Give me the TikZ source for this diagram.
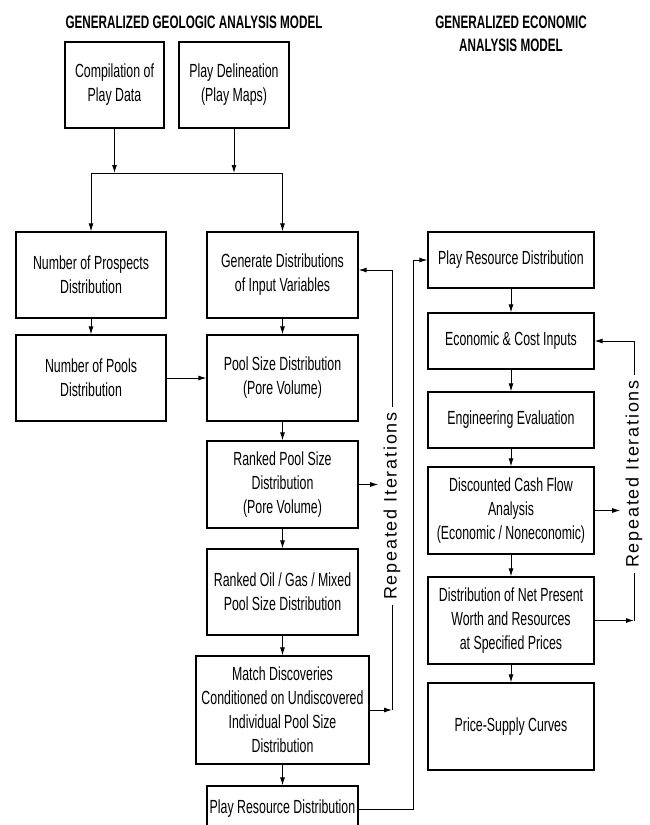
\documentclass[tikz,border=0pt]{standalone}
\usepackage{fontspec}
\setmainfont{Liberation Sans}[FakeStretch=0.65]
\newfontfamily\repfont{Liberation Sans}[LetterSpace=10]
\usetikzlibrary{arrows.meta}

\tikzset{
  box/.style={draw, line width=1.3pt, align=center, inner sep=0pt,
    font=\fontsize{19}{24}\selectfont},
  title/.style={align=center, font=\fontsize{18}{23}\selectfont\bfseries},
  arr/.style={-{Latex[length=8pt,width=5pt]}},
  rep/.style={rotate=90, inner sep=5pt, font=\repfont\fontsize{18}{20}\selectfont}
}

\begin{document}
\begin{tikzpicture}[x=1pt, y=-1pt, line width=0.9pt]
		\useasboundingbox (0,0) rectangle (649,825);
		% titles
		\node[title] (tgeo) at (194,22) {GENERALIZED GEOLOGIC ANALYSIS MODEL};
		\node[title] (teco) at (511,34) {GENERALIZED ECONOMIC\\ANALYSIS MODEL};

		% geologic model
		\node[box, minimum width=99, minimum height=86] (comp) at (114.5,85)
		{Compilation of\\Play Data};
		\node[box, minimum width=110, minimum height=86] (delin) at (234,85)
		{Play Delineation\\(Play Maps)};
		\node[box, minimum width=150, minimum height=86] (prosp) at (91,275)
		{Number of Prospects\\Distribution};
		\node[box, minimum width=150, minimum height=86] (pools) at (91,378)
		{Number of Pools\\Distribution};
		\node[box, minimum width=151, minimum height=86] (gen) at (282.5,275)
		{Generate Distributions\\of Input Variables};
		\node[box, minimum width=151, minimum height=86] (psize) at (282.5,378)
		{Pool Size Distribution\\(Pore Volume)};
		\node[box, minimum width=151, minimum height=87] (ranked) at (282.5,484.5)
		{Ranked Pool Size\\Distribution\\(Pore Volume)};
		\node[box, minimum width=151, minimum height=86] (rog) at (282.5,592)
		{Ranked Oil / Gas / Mixed\\Pool Size Distribution};
		\node[box, minimum width=173, minimum height=108] (match) at (282.5,710)
		{Match Discoveries\\Conditioned on Undiscovered\\Individual Pool Size\\Distribution};
		\node[box, minimum width=151, minimum height=46] (pres1) at (282.5,809)
		{Play Resource Distribution};

		% economic model
		\node[box, minimum width=166, minimum height=56] (pres2) at (511,260)
		{Play Resource Distribution};
		\node[box, minimum width=166, minimum height=56] (econ) at (511,341)
		{Economic \& Cost Inputs};
		\node[box, minimum width=166, minimum height=56] (eng) at (511,420)
		{Engineering Evaluation};
		\node[box, minimum width=166, minimum height=87] (dcf) at (511,510.5)
		{Discounted Cash Flow\\Analysis\\(Economic / Noneconomic)};
		\node[box, minimum width=166, minimum height=87] (npw) at (511,620.5)
		{Distribution of Net Present\\Worth and Resources\\at Specified Prices};
		\node[box, minimum width=166, minimum height=87] (psc) at (511,726.5)
		{Price-Supply Curves};

		% iteration labels
		\node[rep] (repl) at (392,506) {Repeated Iterations};
		\node[rep] (repr) at (634,474) {Repeated Iterations};

		% junction below the first two boxes
		\coordinate (jn) at (182,173);
		\draw[arr] (comp.south) -- (comp.south |- jn);
		\draw[arr] (delin.south) -- (delin.south |- jn);
		\draw (prosp.north |- jn) -- (gen.north |- jn);
		\draw[arr] (prosp.north |- jn) -- (prosp.north);
		\draw[arr] (gen.north |- jn) -- (gen.north);

		% geologic flow
		\draw[arr] (prosp) -- (pools);
		\draw[arr] (pools) -- (psize);
		\draw[arr] (gen) -- (psize);
		\draw[arr] (psize) -- (ranked);
		\draw[arr] (ranked) -- (rog);
		\draw[arr] (rog) -- (match);
		\draw[arr] (match) -- (pres1);

		% left iteration loop
		\coordinate (genin) at ([yshift=5pt]gen.east);
		\draw[arr] (repl.east) -- (repl.east |- genin) -- (genin);
		\draw (repl.west) -- (repl.west |- match.east);
		\draw[arr] (match.east) -- (match.east -| repl.west);
		\draw[arr] (ranked.east) -- (ranked.east -| repl.north);

		% to economic model
		\draw[arr] (pres1.east) -- ++(55,0) |- (pres2.west);

		% economic flow
		\draw[arr] (pres2) -- (econ);
		\draw[arr] (econ) -- (eng);
		\draw[arr] (eng) -- (dcf);
		\draw[arr] (dcf) -- (npw);
		\draw[arr] (npw) -- (psc);

		% right iteration loop
		\draw[arr] (repr.east) -- (repr.east |- econ.east) -- (econ.east);
		\draw (repr.west) -- (repr.west |- npw.east);
		\draw[arr] (npw.east) -- (npw.east -| repr.west);
		\draw[arr] (dcf.east) -- (dcf.east -| repr.north);
\end{tikzpicture}
\end{document}
